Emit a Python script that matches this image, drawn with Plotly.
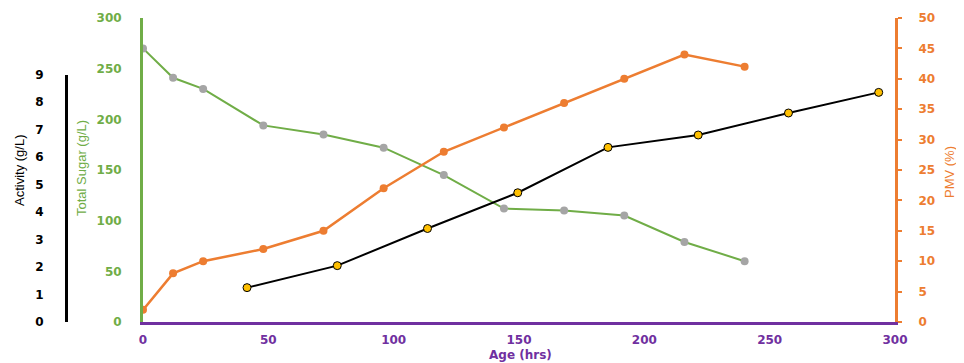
import plotly.graph_objects as go

# ---- data ----
age_sugar_pmv = [0, 12, 24, 48, 72, 96, 120, 144, 168, 192, 216, 240]
total_sugar = [270, 241, 230, 194, 185, 172, 145, 112, 110, 105, 79, 60]
pmv = [2, 8, 10, 12, 15, 22, 28, 32, 36, 40, 44, 42]

age_activity = [41.5, 77.5, 113.5, 149.5, 185.5, 221.5, 257.5, 293.5]
activity = [1.25, 2.05, 3.4, 4.7, 6.35, 6.8, 7.6, 8.35]

x_ticks = [0, 50, 100, 150, 200, 250, 300]
sugar_ticks = [0, 50, 100, 150, 200, 250, 300]
activity_ticks = [0, 1, 2, 3, 4, 5, 6, 7, 8, 9]
pmv_ticks = [0, 5, 10, 15, 20, 25, 30, 35, 40, 45, 50]

GREEN = "#70AD47"
ORANGE = "#ED7D31"
PURPLE = "#7030A0"
GRAY = "#A5A5A5"
YELLOW = "#FFC000"

tick_font = dict(family="DejaVu Sans", size=12, weight="bold")

fig = go.Figure()

fig.add_trace(go.Scatter(
    x=age_sugar_pmv, y=total_sugar, mode="lines+markers",
    line=dict(color=GREEN, width=2),
    marker=dict(color=GRAY, size=8),
    xaxis="x", yaxis="y", showlegend=False))

fig.add_trace(go.Scatter(
    x=age_sugar_pmv, y=pmv, mode="lines+markers",
    line=dict(color=ORANGE, width=2.5),
    marker=dict(color=ORANGE, size=8),
    xaxis="x", yaxis="y3", showlegend=False))

fig.add_trace(go.Scatter(
    x=age_activity, y=activity, mode="lines+markers",
    line=dict(color="black", width=2),
    marker=dict(color=YELLOW, size=8, line=dict(color="black", width=1)),
    xaxis="x", yaxis="y2", showlegend=False, cliponaxis=False))

# page body has an 8px margin: figure coords = screenshot coords - OFF
OFF = 8
W, H = 956, 355
L, R = 20, 20
T = 18 - OFF
B = H - (322 - OFF)
pw = W - L - R
ph = H - T - B


def px_x(p):
    return (p - OFF - L) / pw


def px_y(p):
    return (H - B - (p - OFF)) / ph


fig.update_layout(
    width=W, height=H,
    margin=dict(l=L, r=R, t=T, b=B, autoexpand=False),
    paper_bgcolor="white", plot_bgcolor="rgba(0,0,0,0)",
    xaxis=dict(
        domain=[px_x(143), px_x(895)], range=[0, 300],
        tickvals=x_ticks, showgrid=False, zeroline=False,
        showline=True, linecolor=PURPLE, linewidth=3,
        tickfont=dict(color=PURPLE, **tick_font), ticks="",
        ticklabelstandoff=5, anchor="y"),
    yaxis=dict(
        domain=[0, 1], range=[0, 300], tickvals=sugar_ticks,
        showgrid=False, zeroline=False,
        showline=True, linecolor=GREEN, linewidth=3,
        tickfont=dict(color=GREEN, **tick_font), ticks="",
        ticklabelstandoff=16, anchor="x"),
    yaxis2=dict(
        domain=[0, px_y(74.5)], range=[0, 9], tickvals=activity_ticks,
        showgrid=False, zeroline=False,
        showline=True, linecolor="black", linewidth=3,
        tickfont=dict(color="black", **tick_font), ticks="",
        ticklabelstandoff=19, anchor="free", position=px_x(66), side="left"),
    yaxis3=dict(
        range=[0, 50], tickvals=pmv_ticks, overlaying="y", side="right",
        showgrid=False, zeroline=False,
        showline=True, linecolor=ORANGE, linewidth=3,
        ticks="outside", ticklen=4, tickcolor=ORANGE, tickwidth=2,
        tickfont=dict(color=ORANGE, **tick_font),
        ticklabelstandoff=14, anchor="x"),
)

annotations = [
    dict(text="Activity (g/L)", x=px_x(19), y=px_y(170), textangle=-90,
         font=dict(family="Liberation Sans, Arial", size=13, color="black")),
    dict(text="Total Sugar (g/L)", x=px_x(81), y=px_y(168), textangle=-90,
         font=dict(family="Liberation Sans Narrow, Arial Narrow, Liberation Sans", size=13, color=GREEN)),
    dict(text="PMV (%)", x=px_x(949), y=px_y(172), textangle=-90,
         font=dict(family="Liberation Sans Narrow, Arial Narrow, Liberation Sans", size=13, color=ORANGE)),
    dict(text="Age (hrs)", x=px_x(520), y=px_y(355),
         font=dict(family="DejaVu Sans", size=12, weight="bold", color=PURPLE)),
]
for a in annotations:
    a.update(xref="paper", yref="paper", showarrow=False, xanchor="center", yanchor="middle")
fig.update_layout(annotations=annotations)

fig.write_html("out.html")
